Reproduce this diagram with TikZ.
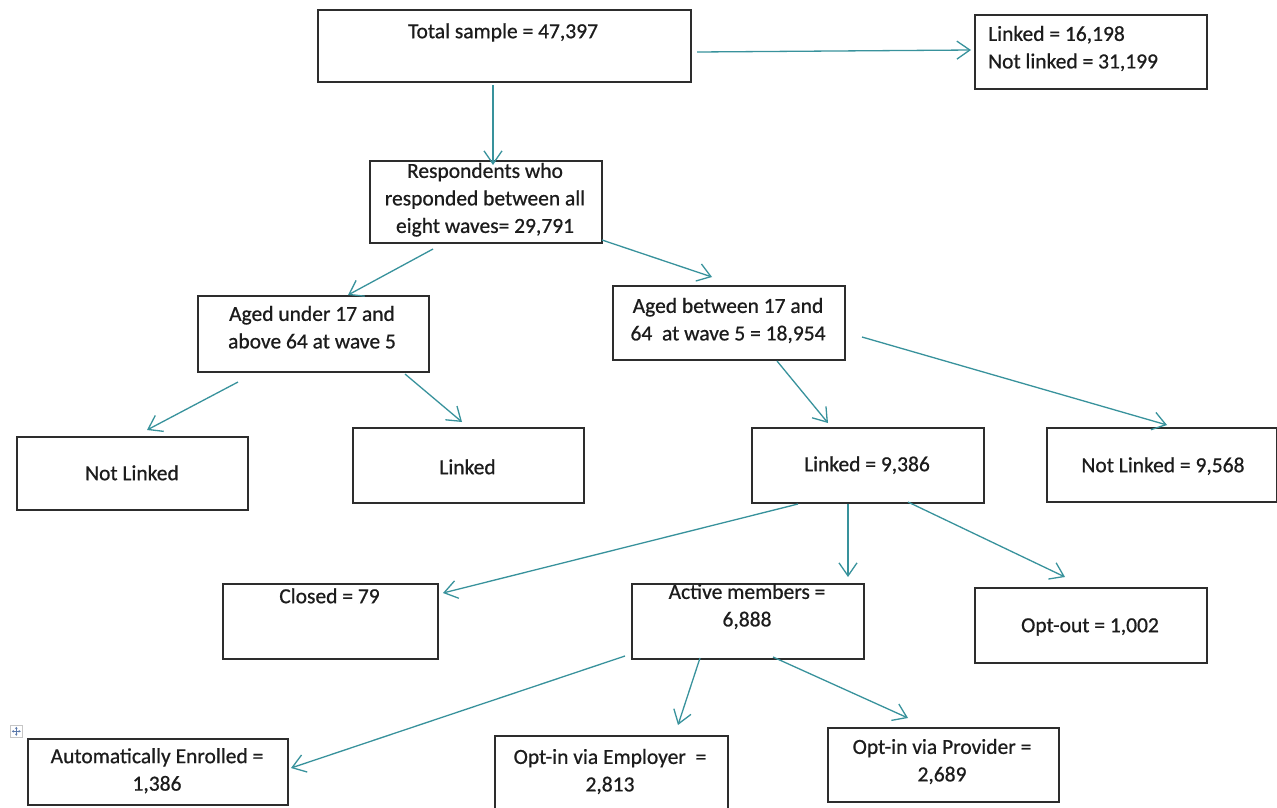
\documentclass[tikz,border=0pt]{standalone}
\usepackage{fontspec}
\setmainfont{Carlito}
\newfontface\heavyface{Carlito}[FakeBold=0.7]
\usetikzlibrary{arrows.meta}
\definecolor{teal1}{RGB}{56,146,156}
\definecolor{ink}{RGB}{28,28,28}
\definecolor{boxline}{RGB}{45,45,45}
\definecolor{handle}{RGB}{90,120,170}
\begin{document}
\begin{tikzpicture}[x=1pt,y=-1pt,
  box/.style={draw=boxline, line width=1.5pt, rectangle, inner sep=0pt, anchor=north west},
  txt/.style={text=ink, font=\heavyface\fontsize{21.5}{27.5}\selectfont, inner sep=0pt, align=center, anchor=north, execute at begin node=\strut},
  arr/.style={draw=teal1, line width=1.3pt, -{Straight Barb[length=13pt,width=18pt,line width=1.3pt]}}]
\useasboundingbox[fill=white] (0,0) rectangle (1277,807);

% boxes
\node[box, minimum width=373pt, minimum height=72pt] (tot) at (317,9) {};
\node[box, minimum width=232pt, minimum height=74pt] (lnk) at (974,14) {};
\node[box, minimum width=232pt, minimum height=82pt] (resp) at (369,160) {};
\node[box, minimum width=231pt, minimum height=76pt] (agu) at (197,295) {};
\node[box, minimum width=232pt, minimum height=74pt] (agb) at (612,285) {};
\node[box, minimum width=231pt, minimum height=73pt] (nla) at (16,436) {};
\node[box, minimum width=231pt, minimum height=75pt] (lka) at (352,427) {};
\node[box, minimum width=232pt, minimum height=75pt] (lkb) at (751,427) {};
\node[box, minimum width=230pt, minimum height=74pt] (nlb) at (1046,427) {};
\node[box, minimum width=215pt, minimum height=75pt] (cls) at (222,583) {};
\node[box, minimum width=232pt, minimum height=75pt] (act) at (631,583) {};
\node[box, minimum width=232pt, minimum height=75pt] (opo) at (974,587) {};
\node[box, minimum width=260pt, minimum height=66pt] (aut) at (27,738) {};
\node[box, minimum width=233pt, minimum height=80pt] (emp) at (494,735) {};
\node[box, minimum width=231pt, minimum height=74pt] (prv) at (827,727) {};

% texts
\node[txt] (totT) at (503,18.75) {Total sample = 47,397};
\node[txt, align=left, anchor=north west] (lnkT) at (988,25.75) {Linked = 16,198\\Not linked = 31,199};
\node[txt] (respT) at (485,162.75) {Respondents who\\responded between all\\eight waves= 29,791};
\node[txt] (aguT) at (312,305.75) {Aged under 17 and\\above 64 at wave 5};
\node[txt] (agbT) at (728,297.75) {Aged between 17 and\\64~ at wave 5 = 18,954};
\node[txt] (nlaT) at (132,460.75) {Not Linked};
\node[txt] (lkaT) at (467.5,454.75) {Linked};
\node[txt] (lkbT) at (867,451.75) {Linked = 9,386};
\node[txt] (nlbT) at (1163,452.75) {Not Linked = 9,568};
\node[txt] (clsT) at (329.5,583.75) {Closed = 79};
\node[txt] (actT) at (747,583.75) {Active members =\\6,888};
\node[txt] (opoT) at (1090,612.75) {Opt-out = 1,002};
\node[txt] (autT) at (157,748) {Automatically Enrolled =\\1,386};
\node[txt] (empT) at (610,748.75) {Opt-in via Employer~ =\\2,813};
\node[txt] (prvT) at (942,738.75) {Opt-in via Provider =\\2,689};

% connector end points
\coordinate (s1) at (697,52);   \coordinate (e1) at (971,50);
\coordinate (s2) at (493,85);   \coordinate (e2) at (493,165);
\coordinate (s3) at (433,249);  \coordinate (e3) at (348,295);
\coordinate (s4) at (602,240);  \coordinate (e4) at (712,277);
\coordinate (s5) at (238,382);  \coordinate (e5) at (147,430);
\coordinate (s6) at (405,374);  \coordinate (e6) at (462,422);
\coordinate (s7) at (777,361);  \coordinate (e7) at (828,423);
\coordinate (s8) at (862,337);  \coordinate (e8) at (1167,425);
\coordinate (s9) at (798,504);  \coordinate (e9) at (443,593);
\coordinate (s10) at (848,504); \coordinate (e10) at (848,577);
\coordinate (s11) at (908,502); \coordinate (e11) at (1065,577);
\coordinate (s12) at (625,656); \coordinate (e12) at (291,768);
\coordinate (s13) at (700,658); \coordinate (e13) at (678,725);
\coordinate (s14) at (773,657); \coordinate (e14) at (908,718);

\foreach \i in {1,...,14} {\draw[arr] (s\i) -- (e\i);}

% table move handle
\node[draw=gray!45, line width=0.6pt, minimum size=12pt, inner sep=0pt, anchor=north west] (mv) at (10,725) {};
\draw[handle, line width=0.7pt, {Stealth[length=2.2pt,width=2.6pt]}-{Stealth[length=2.2pt,width=2.6pt]}] ([yshift=4.5pt]mv.center) -- ([yshift=-4.5pt]mv.center);
\draw[handle, line width=0.7pt, {Stealth[length=2.2pt,width=2.6pt]}-{Stealth[length=2.2pt,width=2.6pt]}] ([xshift=-4.5pt]mv.center) -- ([xshift=4.5pt]mv.center);
\end{tikzpicture}
\end{document}
